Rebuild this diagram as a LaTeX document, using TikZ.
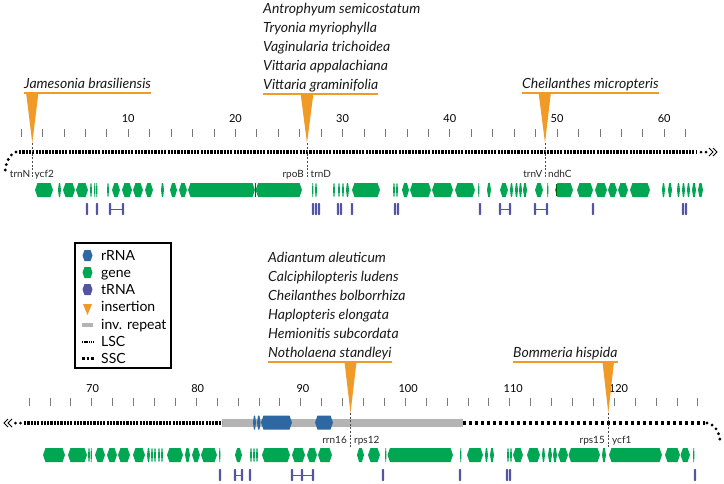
\documentclass[tikz,border=0pt]{standalone}
\usepackage{fontspec}
\setmainfont{Lato}
\definecolor{gcol}{RGB}{0,166,81}
\definecolor{tcol}{RGB}{84,84,165}
\definecolor{rcol}{RGB}{46,104,163}
\definecolor{icol}{RGB}{240,154,40}
\definecolor{ircol}{RGB}{180,180,180}
\definecolor{tickcol}{RGB}{120,120,120}
\newcommand\genetrack[3]{%
  \foreach \ga/\gb in {#3} {%
    \fill[#1] ({\ga},{#2}) -- ({\ga+min(2.5,(\gb-\ga)*0.3)},{#2-7}) -- ({\gb-min(2.5,(\gb-\ga)*0.3)},{#2-7})
      -- ({\gb},{#2}) -- ({\gb-min(2.5,(\gb-\ga)*0.3)},{#2+7}) -- ({\ga+min(2.5,(\gb-\ga)*0.3)},{#2+7}) -- cycle;}}
\newcommand\trnatrack[2]{%
  \foreach \tx in {#2} {\fill[tcol,rounded corners=0.8pt] ({\tx-1.2},{#1-6}) rectangle ({\tx+1.2},{#1+6});}}
\begin{document}
\begin{tikzpicture}[x=1pt,y=-1pt,
  species/.style={font=\fontsize{14}{16}\selectfont\itshape, inner sep=0pt, anchor=base west, text=black!90},
  uline/.style={icol, line width=1.4pt},
  insert/.style={fill=icol, draw=none},
  guide/.style={black!70, line width=0.6pt, dash pattern=on 2pt off 1.6pt},
  gname/.style={font=\fontsize{10}{12}\selectfont, inner sep=0pt, text=black!85},
  tlab/.style={font=\fontsize{11}{13}\selectfont, inner sep=0pt, anchor=base},
  tickmark/.style={tickcol, line width=0.7pt},
  lsc/.style={black, line width=3.2pt, dash pattern=on 2.2pt off 1.1pt},
  ssc/.style={black, line width=3.2pt, dash pattern=on 3pt off 3pt},
  irep/.style={ircol, line width=8pt},
  legtext/.style={font=\fontsize{14}{16}\selectfont, inner sep=0pt, anchor=base west},
  chev/.style={black, line width=1pt}
]
\useasboundingbox (0,0) rectangle (724,483);

% ---------------- TOP ROW ----------------
\foreach \k in {0,2,...,62} \draw[tickmark] ({21+10.72*\k},129) -- ({21+10.72*\k},137);
\foreach \k in {10,20,...,60} \node[tlab] (tt\k) at ({21+10.72*\k},122) {\k};

\draw[lsc] (19,152) -- (696,152);
\fill (701,152) circle (1.5);
\fill (706,152) circle (1.5);
\draw[chev] (709,148) -- (713,152) -- (709,156);
\draw[chev] (713,148) -- (717,152) -- (713,156);
\draw[black, line width=3.2pt, line cap=round, dash pattern=on 0pt off 5.5pt] (16,152) .. controls (10,154) and (6,161) .. (5,172);

\genetrack{gcol}{190}{35/53, 58/61, 63/75, 76/88, 90/92, 94/95.5, 96/97.5, 107/109, 112/120, 122/132, 133/143, 145/153, 161/164, 170/177, 179/187, 188/255, 255.6/302, 312/313.5, 315/317, 333/335, 338/340, 342/344, 346/349, 352/380, 393/395, 396/398, 402/409, 410/431, 432/453, 455/475, 478/479.5, 487/491, 500/508, 510/513, 515/518, 519/522, 523/527, 535/543, 547/548.5, 555/573, 577/593, 595/607, 608/617, 618/628, 630/650, 662/665, 668/672, 677/680, 682/685, 687/690, 692/696, 698/703}
\draw[black!60!green, line width=0.6pt] (255.3,183) -- (255.3,197);
\draw[black!60!green, line width=0.8pt] (556,184) -- (556,196);
\trnatrack{209}{87, 97, 110, 123, 313, 316, 319, 338, 341, 352, 395, 398, 480, 500, 510, 535, 547, 593, 683, 686}
\draw[tcol, line width=1pt] (110,209) -- (123,209);
\draw[tcol, line width=1pt] (500,209) -- (510,209);
\draw[tcol, line width=1pt] (535,209) -- (547,209);

\node[species] (jam) at (24,88) {Jamesonia brasiliensis};
\draw[uline] ([yshift=-5pt]jam.base west) -- ([yshift=-5pt]jam.base east);
\fill[insert] (26,92) -- (38.5,92) -- (32.3,143) -- cycle;
\draw[guide] (32.3,143) -- (32.3,179);
\node[gname, anchor=base east] (trnN) at (30.5,177) {trnN};
\node[gname, anchor=base west] (ycf2) at (34.5,177) {ycf2};

\node[species] (sp1) at (263,13) {Antrophyum semicostatum};
\node[species] (sp2) at (263,32) {Tryonia myriophylla};
\node[species] (sp3) at (263,51) {Vaginularia trichoidea};
\node[species] (sp4) at (263,70) {Vittaria appalachiana};
\node[species] (sp5) at (263,89) {Vittaria graminifolia};
\draw[uline] ([yshift=-5pt]sp5.base west) -- ([yshift=-5pt]sp5.base east);
\fill[insert] (300.5,93) -- (313.5,93) -- (307,143) -- cycle;
\draw[guide] (307,143) -- (307,179);
\node[gname, anchor=base east] (rpoB) at (304,177) {rpoB};
\node[gname, anchor=base west] (trnD) at (310.5,177) {trnD};

\node[species] (che) at (522,88) {Cheilanthes micropteris};
\draw[uline] ([yshift=-5pt]che.base west) -- ([yshift=-5pt]che.base east);
\fill[insert] (538.5,92) -- (551,92) -- (545,143) -- cycle;
\draw[guide] (545,143) -- (545,179);
\node[gname, anchor=base east] (trnV) at (542.5,177) {trnV};
\node[gname, anchor=base west] (ndhC) at (548,177) {ndhC};

% ---------------- LEGEND ----------------
\draw[black, line width=1.6pt] (75,243) rectangle (171,368);
\fill[rcol] (82.5,255.5) -- (84.5,250) -- (90.5,250) -- (92.5,255.5) -- (90.5,261) -- (84.5,261) -- cycle;
\fill[gcol] (82.5,272.5) -- (84.5,267) -- (90.5,267) -- (92.5,272.5) -- (90.5,278) -- (84.5,278) -- cycle;
\fill[tcol] (82.5,289.5) -- (84.5,284) -- (90.5,284) -- (92.5,289.5) -- (90.5,295) -- (84.5,295) -- cycle;
\fill[icol] (83,304) -- (92,304) -- (87.5,315) -- cycle;
\draw[ircol, line width=4pt] (82,324.5) -- (93,324.5);
\draw[black, line width=2.6pt, dash pattern=on 1.4pt off 0.8pt] (82,342) -- (93.5,342);
\draw[black, line width=2.6pt, dash pattern=on 2.6pt off 2pt] (82,358.5) -- (94,358.5);
\node[legtext] (l1) at (101,260.5) {rRNA};
\node[legtext] (l2) at (101,277.5) {gene};
\node[legtext] (l3) at (101,294.5) {tRNA};
\node[legtext] (l4) at (101,311.5) {insertion};
\node[legtext] (l5) at (101,329) {inv. repeat};
\node[legtext] (l6) at (101,346.5) {LSC};
\node[legtext] (l7) at (101,363.5) {SSC};

% ---------------- BOTTOM ROW ----------------
\foreach \k in {64,66,...,128} \draw[tickmark] ({29+10.45*(\k-64)},398) -- ({29+10.45*(\k-64)},406);
\foreach \k in {70,80,...,120} \node[tlab] (bt\k) at ({92.5+10.52*(\k-70)},392) {\k};

\draw[irep] (222,422.5) -- (463,422.5);
\draw[lsc] (24,423) -- (222,423);
\draw[ssc] (463,423) -- (705,423);
\draw[black, line width=3.2pt, line cap=round, dash pattern=on 0pt off 5.5pt] (707,423) .. controls (714,424) and (719,431) .. (720,440);
\fill (15.5,423) circle (1.5);
\fill (20.5,423) circle (1.5);
\draw[chev] (8,419) -- (4,423) -- (8,427);
\draw[chev] (12,419) -- (8,423) -- (12,427);

\genetrack{rcol}{422.5}{253/256, 257/260.5, 261/292, 315/333}

\genetrack{gcol}{455}{43/65, 68/87, 88/90, 90.5/92, 95/105, 107/117, 118/130, 133/145, 147/150, 151/153, 154/156, 158/160, 161/163, 167/183, 185/190, 192/200, 201/217, 219/220.5, 235/242, 250/252, 253/255, 256/258, 262/290, 292/305, 307/317, 318/332, 357/364, 368/380, 385/386.5, 387.5/453, 460/461.5, 467/483, 485/488, 490/494, 507/509, 510/512, 513/523, 527/540, 542/545, 548/552, 553/557, 558/568, 568.5/600, 602/606, 609/662, 665/680, 680.5/690, 693/694.5}
\trnatrack{475}{220, 235, 242, 250, 292, 302, 313, 383, 460, 507, 510, 695}
\draw[tcol, line width=1pt] (235,475) -- (242,475);
\draw[tcol, line width=1pt] (292,475) -- (313,475);

\node[species] (sb1) at (268,262) {Adiantum aleuticum};
\node[species] (sb2) at (268,281) {Calciphilopteris ludens};
\node[species] (sb3) at (268,300) {Cheilanthes bolborrhiza};
\node[species] (sb4) at (268,319) {Haplopteris elongata};
\node[species] (sb5) at (268,338) {Hemionitis subcordata};
\node[species] (sb6) at (268,357) {Notholaena standleyi};
\draw[uline] ([yshift=-5pt]sb6.base west) -- ([yshift=-5pt]sb6.base east);
\fill[insert] (344.5,362) -- (356.5,362) -- (350.5,413) -- cycle;
\draw[guide] (350.5,413) -- (350.5,447);
\node[gname, anchor=base east] (rrn16) at (347,443) {rrn16};
\node[gname, anchor=base west] (rps12) at (354,443) {rps12};

\node[species] (bom) at (513,357) {Bommeria hispida};
\draw[uline] ([yshift=-5pt]bom.base west) -- ([yshift=-5pt]bom.base east);
\fill[insert] (602.5,362) -- (614,362) -- (608.3,413) -- cycle;
\draw[guide] (608.3,413) -- (608.3,447);
\node[gname, anchor=base east] (rps15) at (605,443) {rps15};
\node[gname, anchor=base west] (ycf1) at (612,443) {ycf1};
\end{tikzpicture}
\end{document}
